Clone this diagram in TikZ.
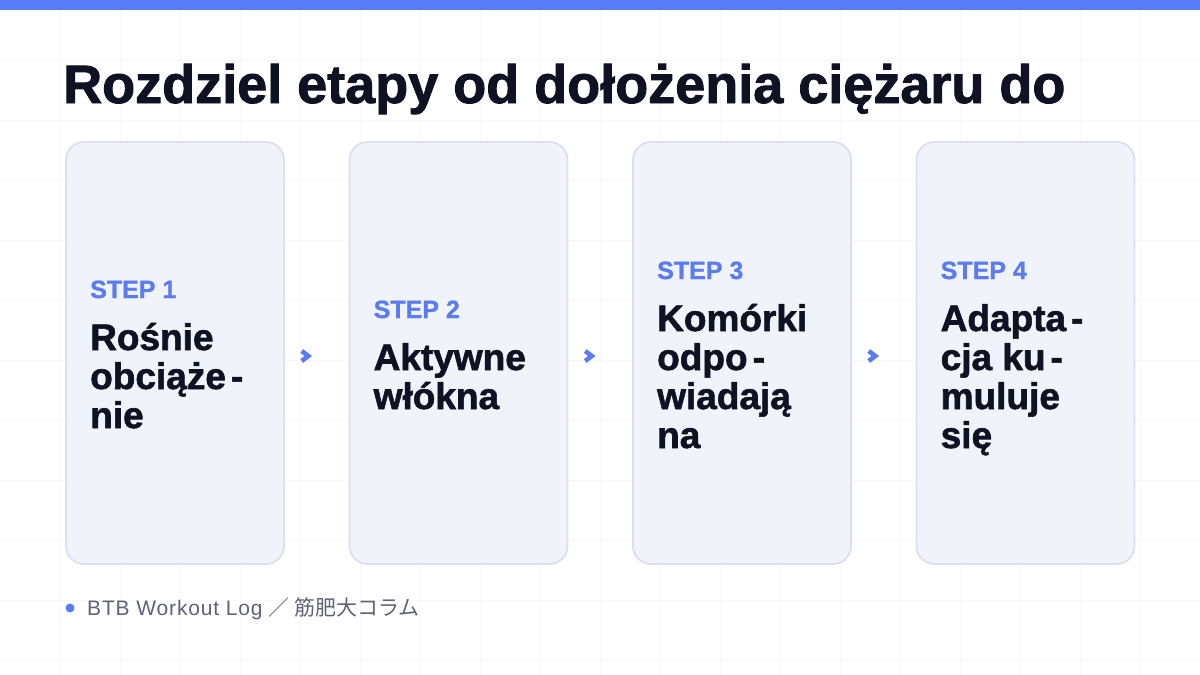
\documentclass[tikz,border=0pt]{standalone}
\usepackage{fontspec}
\setmainfont{Liberation Sans}
\newfontfamily\heavyfont{Liberation Sans}[FakeBold=1.6]
\newfontfamily\stepfont{Liberation Sans}[FakeBold=1.0]
\newfontfamily\footfont{Liberation Sans}[LetterSpace=4]
\newfontfamily\jpfont{Noto Sans CJK JP}
\usetikzlibrary{calc}
\definecolor{barblue}{HTML}{5B7CF8}
\definecolor{stepblue}{HTML}{5B7CF0}
\definecolor{ink}{HTML}{0F1222}
\definecolor{cardfill}{HTML}{F1F3FB}
\definecolor{cardline}{HTML}{DCE0EC}
\definecolor{gridc}{HTML}{F6F7F9}
\definecolor{foot}{HTML}{5F6473}
\tikzset{
  x=1pt, y=-1pt,
  card/.style={draw=cardline, line width=1.8pt, fill=cardfill, rounded corners=18pt,
    minimum width=218pt, minimum height=422pt, inner sep=0pt},
  steplabel/.style={anchor=base west, inner sep=0pt, text=stepblue,
    font=\stepfont\fontsize{25}{28}\selectfont\bfseries},
  bodyline/.style={anchor=base west, inner sep=0pt, text=ink,
    font=\heavyfont\fontsize{37}{39}\selectfont\bfseries},
  chev/.style={draw=stepblue, line width=4.6pt, miter limit=10, line join=miter},
  gridline/.style={draw=gridc, line width=0.7pt},
}
\newcommand{\hy}{\kern5pt-}
\begin{document}
\begin{tikzpicture}
\useasboundingbox (0,0) rectangle (1200,675);
\fill[white] (0,0) rectangle (1200,675);
% faint grid
\foreach \gx in {60,120,...,1140} {\draw[gridline] (\gx,10) -- (\gx,675);}
\foreach \gy in {60,120,...,660} {\draw[gridline] (0,\gy) -- (1200,\gy);}
% top bar
\fill[barblue] (0,0) rectangle (1200,10);
% title
\node[anchor=base west, inner sep=0pt, text=ink, font=\heavyfont\fontsize{54}{60}\selectfont\bfseries]
  (title) at (63,103) {Rozdziel etapy od dołożenia ciężaru do};
% cards
\node[card] (c1) at (175,353) {};
\node[card] (c2) at (458.5,353) {};
\node[card] (c3) at (742,353) {};
\node[card] (c4) at (1025.5,353) {};
% card 1
\node[steplabel] (s1) at (90,298) {STEP 1};
\node[bodyline] (t1a) at (90,350) {Rośnie};
\node[bodyline] (t1b) at (90,389) {obciąże\hy};
\node[bodyline] (t1c) at (90,428) {nie};
% card 2
\node[steplabel] (s2) at (373.5,318) {STEP 2};
\node[bodyline] (t2a) at (373.5,370) {Aktywne};
\node[bodyline] (t2b) at (373.5,409) {włókna};
% card 3
\node[steplabel] (s3) at (657,279) {STEP 3};
\node[bodyline] (t3a) at (657,331) {Komórki};
\node[bodyline] (t3b) at (657,370) {odpo\hy};
\node[bodyline] (t3c) at (657,409) {wiadają};
\node[bodyline] (t3d) at (657,448) {na};
% card 4
\node[steplabel] (s4) at (940.5,279) {STEP 4};
\node[bodyline] (t4a) at (940.5,331) {Adapta\hy};
\node[bodyline] (t4b) at (940.5,370) {cja ku\hy};
\node[bodyline] (t4c) at (940.5,409) {muluje};
\node[bodyline] (t4d) at (940.5,448) {się};
% chevrons between cards
\foreach \a/\b in {c1/c2,c2/c3,c3/c4} {
  \coordinate (m) at ($(\a.east)!0.5!(\b.west)+(-11,3)$);
  \draw[chev] ($(m)+(-4,-5)$) -- ($(m)+(2.5,0)$) -- ($(m)+(-4,5)$);
}
% footer
\fill[barblue] (70,608) circle[radius=4.5];
\node[anchor=base west, inner sep=0pt, text=foot, font=\fontsize{21}{24}\selectfont]
  (foot) at (87,615) {{\footfont BTB Workout Log} {\jpfont ／ 筋肥大コラム}};
\end{tikzpicture}
\end{document}
